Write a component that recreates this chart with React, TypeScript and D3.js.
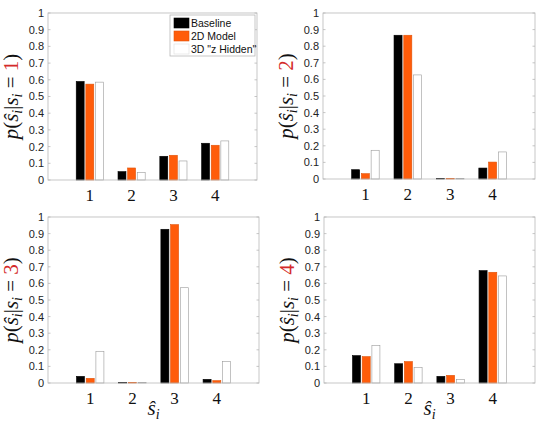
import { useEffect, useRef } from "react";
import * as d3 from "d3";

// predicted state categories
const categories = [1, 2, 3, 4];
const seriesNames = ["Baseline", "2D Model", '3D "z Hidden"'];
const yTicks = [0, 0.1, 0.2, 0.3, 0.4, 0.5, 0.6, 0.7, 0.8, 0.9, 1];

// p(ŝ_i | s_i = k), one array per series, per true state k
const trueState1 = [
  [0.59, 0.05, 0.142, 0.22],
  [0.574, 0.072, 0.148, 0.208],
  [0.586, 0.046, 0.114, 0.234],
];
const trueState2 = [
  [0.056, 0.866, 0.003, 0.066],
  [0.032, 0.866, 0.002, 0.102],
  [0.173, 0.627, 0.002, 0.163],
];
const trueState3 = [
  [0.04, 0.003, 0.926, 0.022],
  [0.028, 0.003, 0.954, 0.014],
  [0.191, 0.002, 0.574, 0.129],
];
const trueState4 = [
  [0.165, 0.116, 0.04, 0.677],
  [0.159, 0.129, 0.046, 0.667],
  [0.227, 0.094, 0.022, 0.645],
];
const panelData = [trueState1, trueState2, trueState3, trueState4];
const panelState = ["1", "2", "3", "4"];

const W = 550;
const H = 424;
const fills = ["#000000", "#ff5c0a", "#ffffff"];
const strokes = ["#000000", "#e0540a", "#9a9a9a"];
const axisGray = "#b8b8b8";
const SERIF = "'Liberation Serif', 'DejaVu Serif', 'Times New Roman', serif";
const SANS = "'Liberation Sans', Arial, sans-serif";

export default function App() {
  const svgRef = useRef<SVGSVGElement>(null);

  useEffect(() => {
    const svg = d3.select(svgRef.current);
    svg.selectAll("*").remove();

    const boxes = [
      { x0: 48, x1: 257, y0: 13, y1: 180 },
      { x0: 323, x1: 535, y0: 13, y1: 179 },
      { x0: 48, x1: 259, y0: 217, y1: 383 },
      { x0: 324, x1: 535, y0: 217, y1: 383 },
    ];

    boxes.forEach((b, p) => {
      const x = d3.scaleLinear().domain([0, 5]).range([b.x0, b.x1]);
      const y = d3.scaleLinear().domain([0, 1]).range([b.y1, b.y0]);
      const g = svg.append("g");

      // bars
      const barW = x(0.19) - x(0);
      const offsets = [-0.23, 0, 0.23];
      panelData[p].forEach((vals, s) => {
        g.selectAll(null)
          .data(vals)
          .enter()
          .append("rect")
          .attr("x", (_d, i) => x(categories[i] + offsets[s]) - barW / 2)
          .attr("y", (d) => y(d))
          .attr("width", barW)
          .attr("height", (d) => y(0) - y(d))
          .attr("fill", fills[s])
          .attr("stroke", strokes[s])
          .attr("stroke-width", 0.6);
      });

      // axes box
      g.append("rect")
        .attr("x", b.x0)
        .attr("y", b.y0)
        .attr("width", b.x1 - b.x0)
        .attr("height", b.y1 - b.y0)
        .attr("fill", "none")
        .attr("stroke", axisGray)
        .attr("stroke-width", 0.8);

      // y ticks (inside, both sides)
      yTicks.forEach((t) => {
        g.append("line")
          .attr("x1", b.x0).attr("x2", b.x0 + 2.5)
          .attr("y1", y(t)).attr("y2", y(t))
          .attr("stroke", axisGray).attr("stroke-width", 0.8);
        g.append("line")
          .attr("x1", b.x1).attr("x2", b.x1 - 2.5)
          .attr("y1", y(t)).attr("y2", y(t))
          .attr("stroke", axisGray).attr("stroke-width", 0.8);
        g.append("text")
          .attr("x", b.x0 - 4)
          .attr("y", y(t))
          .attr("dy", "0.36em")
          .attr("text-anchor", "end")
          .style("font-family", SANS)
          .style("font-size", "11px")
          .attr("fill", "#222")
          .text(String(t));
      });

      // x tick labels
      categories.forEach((c) => {
        g.append("text")
          .attr("x", x(c))
          .attr("y", b.y1 + 21)
          .attr("text-anchor", "middle")
          .style("font-family", SERIF)
          .style("font-size", "17px")
          .attr("fill", "#111")
          .text(String(c));
      });

      // y label
      const cy = (b.y0 + b.y1) / 2;
      const lx = b.x0 - 30;
      const lab = g.append("text")
        .attr("transform", `translate(${lx},${cy}) rotate(-90)`)
        .attr("text-anchor", "middle")
        .style("font-family", SERIF)
        .style("font-size", "21px")
        .attr("fill", "#111");
      lab.append("tspan").style("font-style", "italic").text("p");
      lab.append("tspan").text("(");
      lab.append("tspan").style("font-style", "italic").text("ŝ");
      lab.append("tspan").style("font-style", "italic").style("font-size", "14px").attr("dy", 4).text("i");
      lab.append("tspan").attr("dy", -4).text("|");
      lab.append("tspan").style("font-style", "italic").text("s");
      lab.append("tspan").style("font-style", "italic").style("font-size", "14px").attr("dy", 4).text("i");
      lab.append("tspan").attr("dy", -4).text(" = ");
      lab.append("tspan").attr("fill", "#d42a2a").text(panelState[p]);
      lab.append("tspan").text(")");

      // x label on bottom row
      if (p >= 2) {
        const xl = g.append("text")
          .attr("x", (b.x0 + b.x1) / 2)
          .attr("y", b.y1 + 32)
          .attr("text-anchor", "middle")
          .style("font-family", SERIF)
          .style("font-size", "21px")
          .attr("fill", "#111");
        xl.append("tspan").style("font-style", "italic").text("ŝ");
        xl.append("tspan").style("font-style", "italic").style("font-size", "14px").attr("dy", 4).text("i");
      }

      // legend in the first panel
      if (p === 0) {
        const lg = g.append("g");
        lg.append("rect")
          .attr("x", 170).attr("y", 15)
          .attr("width", 85).attr("height", 41)
          .attr("fill", "#fff")
          .attr("stroke", axisGray).attr("stroke-width", 0.8);
        seriesNames.forEach((name, s) => {
          const ry = 23 + s * 13;
          lg.append("rect")
            .attr("x", 174).attr("y", ry - 5)
            .attr("width", 15).attr("height", 10)
            .attr("fill", fills[s])
            .attr("stroke", s === 2 ? "#ddd" : strokes[s])
            .attr("stroke-width", 0.6);
          lg.append("text")
            .attr("x", 191).attr("y", ry)
            .attr("dy", "0.36em")
            .style("font-family", SANS)
            .style("font-size", "10.5px")
            .attr("fill", "#111")
            .text(name);
        });
      }
    });
  }, []);

  return (
    <div style={{ position: "absolute", left: 0, top: 0 }}>
      <svg ref={svgRef} width={W} height={H} style={{ display: "block", background: "#fff" }} />
    </div>
  );
}
